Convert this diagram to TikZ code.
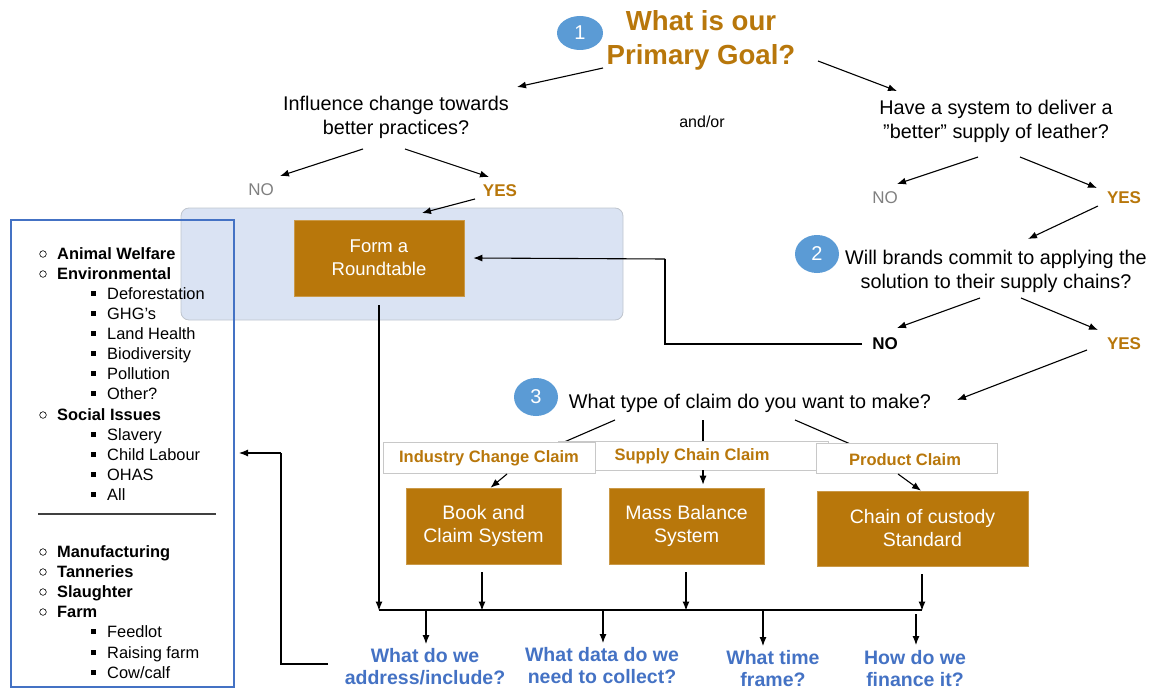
\documentclass[tikz,border=0pt]{standalone}
\usepackage{fontspec}
\setmainfont{Liberation Sans}
\usetikzlibrary{arrows.meta,calc,shapes.geometric}
\definecolor{gold}{HTML}{B8770B}
\definecolor{cblue}{HTML}{5B9BD5}
\definecolor{qblue}{HTML}{4472C4}
\definecolor{regfill}{HTML}{DAE3F3}
\definecolor{regline}{HTML}{BFC5CE}
\definecolor{nogray}{HTML}{808080}
\definecolor{lblline}{HTML}{C8C8C8}
\begin{document}
\begin{tikzpicture}[x=1pt,y=-1pt,
  arr/.style={-{Latex[length=9pt,width=7pt]}, line width=1.1pt},
  ln/.style={line width=1.1pt},
  body/.style={font=\fontsize{19.8}{24}\selectfont, align=center, inner sep=0pt},
  num/.style={ellipse, fill=cblue, text=white, font=\fontsize{20}{24}\selectfont, inner sep=0pt},
  goldbox/.style={fill=gold, draw=gold!75!white, line width=0.6pt, text=white, align=center, inner sep=0pt, font=\fontsize{19.5}{23}\selectfont},
  lbl/.style={fill=white, draw=lblline, line width=0.8pt},
  lbltext/.style={text=gold, font=\bfseries\fontsize{16.5}{20}\selectfont, inner sep=0pt},
  yes/.style={text=gold, font=\bfseries\fontsize{17}{20}\selectfont, inner sep=0pt},
  nog/.style={text=nogray, font=\fontsize{17}{20}\selectfont, inner sep=0pt},
  nob/.style={text=black, font=\bfseries\fontsize{17}{20}\selectfont, inner sep=0pt},
  qq/.style={text=qblue, font=\bfseries\fontsize{19.5}{22}\selectfont, align=center, inner sep=0pt},
  lone/.style={font=\bfseries\fontsize{16.4}{18}\selectfont, inner sep=0pt, anchor=base west},
  ltwo/.style={font=\fontsize{16.4}{18}\selectfont, inner sep=0pt, anchor=base west},
]
\useasboundingbox (0,0) rectangle (1151,690);

% region behind roundtable
\node[draw=regline, fill=regfill, rounded corners=8pt, line width=0.8pt, minimum width=442pt, minimum height=112pt, inner sep=0pt] (region) at (402,264) {};

% left list box
\node[draw=qblue, line width=2pt, minimum width=223pt, minimum height=467pt, inner sep=0pt] (listbox) at (122.5,453.5) {};
\foreach \t/\y [count=\i] in {Animal Welfare/253, Environmental/273, Social Issues/414, Manufacturing/551, Tanneries/571, Slaughter/591, Farm/611}{
  \draw[line width=0.6pt] (43,\y+1) circle (3.3pt);
  \node[lone] (la\i) at (57,\y+6) {\t};
}
\foreach \t/\y [count=\i] in {Deforestation/293, GHG’s/313, Land Health/333, Biodiversity/353, Pollution/373, Other?/393, Slavery/434, Child Labour/454, OHAS/474, All/494, Feedlot/631, Raising farm/652, {Cow/calf}/672}{
  \fill (90.5,\y-2.5) rectangle (96,\y+3);
  \node[ltwo] (lb\i) at (107,\y+6) {\t};
}
\draw[line width=1.2pt, black!75] (38,514) -- (216,514);

% title
\node[num, minimum width=46pt, minimum height=34pt] (c1) at (580,33) {1};
\node[text=gold, font=\bfseries\fontsize{27.6}{34}\selectfont, align=center, inner sep=0pt] (title) at (701,40) {What is our\\Primary Goal?};
\node[body] (infl) at (396,117) {Influence change towards\\better practices?};
\node[font=\fontsize{16}{20}\selectfont, inner sep=0pt] (andor) at (702,122) {and/or};
\node[body] (have) at (996,121) {Have a system to deliver a\\”better” supply of leather?};

\coordinate (t1s) at (603,68); \coordinate (t1e) at (517,87);
\coordinate (t2s) at (818,61); \coordinate (t2e) at (897,91);
\draw[arr] (t1s) -- (t1e);
\draw[arr] (t2s) -- (t2e);

% left branch
\node[nog] (no1) at (261,190) {NO};
\node[yes] (yes1) at (500,191) {YES};
\coordinate (i1) at (363,149); \coordinate (i2) at (405,149);
\draw[arr] (i1) -- (280,176);
\draw[arr] (i2) -- (489,177);
\node[goldbox, minimum width=170pt, minimum height=76pt, font=\fontsize{18.5}{23}\selectfont] (rt) at (379,258) {Form a\\Roundtable};
\draw[arr] (475,199) -- (422,213);

% right branch
\node[nog] (no2) at (885,198) {NO};
\node[yes] (yes2) at (1124,198) {YES};
\draw[arr] (978,157) -- (897,184);
\draw[arr] (1020,157) -- (1097,188);
\draw[arr] (1098,206) -- (1028,239);
\node[num, minimum width=44pt, minimum height=38pt] (c2) at (817,254) {2};
\node[body] (will) at (996,271) {Will brands commit to applying the\\solution to their supply chains?};
\draw[arr] (980,298) -- (897,328);
\draw[arr] (1021,298) -- (1098,330);
\node[nob] (no3) at (885,344) {NO};
\node[yes] (yes3) at (1124,344) {YES};
\draw[ln] ($(no3.west)+(-10,0)$) -- (665,344) -- (665,259);
\draw[arr] (665,259) -- ($(rt.east)+(9,0)$);
\draw[arr] (1087,350) -- (957,400);

% claims
\node[num, minimum width=44pt, minimum height=38pt] (c3) at (536,397) {3};
\node[body] (claim) at (750,403) {What type of claim do you want to make?};
\draw[ln] (615,420) -- (555,446);
\draw[ln] (703,420) -- (703,446);
\draw[ln] (795,420) -- (855,446);
\node[lbl, minimum width=270pt, minimum height=29pt, inner sep=0pt] (lb2) at (693,455.5) {};
\node[lbl, minimum width=212pt, minimum height=31pt, inner sep=0pt] (lb1) at (489,457.5) {};
\node[lbl, minimum width=181pt, minimum height=30pt, inner sep=0pt] (lb3) at (906.5,458) {};
\node[lbltext] (t1) at (489,458) {Industry Change Claim};
\node[lbltext] (t2) at (692,456) {Supply Chain Claim};
\node[lbltext] (t3) at (905,460) {Product Claim};

\node[goldbox, minimum width=155pt, minimum height=76pt] (book) at (483.5,526) {Book and\\Claim System};
\node[goldbox, minimum width=155pt, minimum height=76pt] (mass) at (686.5,526) {Mass Balance\\System};
\node[goldbox, minimum width=211pt, minimum height=75pt] (chain) at (922.5,528.5) {Chain of custody\\Standard};
\draw[arr] (507,474) -- ($(book.north)+(7,0)$);
\draw[arr] (703,470) -- ($(mass.north)+(16.5,-3)$);
\draw[arr] (898,474) -- ($(chain.north)+(-1.5,0)$);

% bottom bus
\coordinate (busL) at (379,610);
\coordinate (busR) at (922,610);
\draw[arr] ($(rt.south)+(0,9)$) -- (379,610.5);
\draw[arr] ($(book.south)+(-1.5,8)$) -- (482,610.5);
\draw[arr] ($(mass.south)+(-0.5,8)$) -- (686,610.5);
\draw[arr] ($(chain.south)+(-0.5,8)$) -- (922,610.5);
\draw[ln] (busL) -- (busR);

\node[qq] (q1) at (425,667) {What do we\\address/include?};
\node[qq] (q2) at (602,666) {What data do we\\need to collect?};
\node[qq] (q3) at (773,669) {What time\\frame?};
\node[qq] (q4) at (915,669) {How do we\\finance it?};
\draw[arr] (426,610) -- (426,644);
\draw[arr] (603,610) -- (603,643);
\draw[arr] (763,610) -- (763,646);
\draw[arr] (916,614) -- (916,645);

\draw[ln] (328,664) -- (281,664) -- (281,453);
\draw[arr] (281,453) -- ($(listbox.east)+(4,-0.5)$);
\end{tikzpicture}
\end{document}
